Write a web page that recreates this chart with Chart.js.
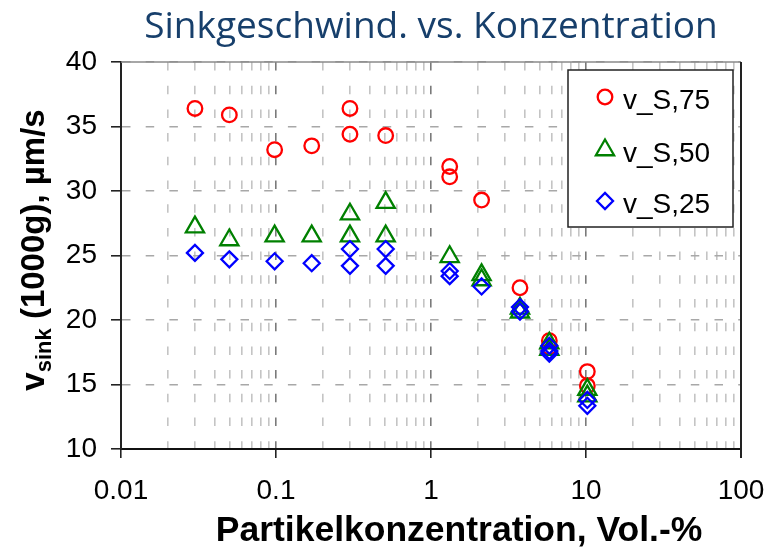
<!DOCTYPE html>
<html>
<head>
<meta charset="utf-8">
<script src="https://cdn.jsdelivr.net/npm/chart.js@4.4.1/dist/chart.umd.min.js"></script>
<style>
  html, body { margin: 0; padding: 0; background: #ffffff; }
  #wrap { width: 769px; height: 549px; }
</style>
</head>
<body>
<div id="wrap"><canvas id="chart" width="769" height="549"></canvas></div>
<script>
// Sinking velocity at 1000 g versus particle concentration (Vol.-%)
const seriesLabels = ['v_S,75', 'v_S,50', 'v_S,25'];

const conc75 = [0.03, 0.05, 0.098, 0.17, 0.3, 0.3, 0.51, 1.32, 1.32, 2.12, 3.75, 5.8, 5.8, 10.2, 10.2];
const vS75   = [36.4, 35.9, 33.2, 33.5, 36.4, 34.4, 34.3, 31.9, 31.1, 29.3, 22.5, 18.4, 17.9, 16.0, 14.9];

const conc50 = [0.03, 0.05, 0.098, 0.17, 0.3, 0.3, 0.51, 0.51, 1.32, 2.12, 2.12, 3.75, 3.75, 5.8, 5.8, 10.2, 10.2];
const vS50   = [27.2, 26.2, 26.5, 26.5, 28.2, 26.5, 29.1, 26.5, 24.9, 23.5, 23.1, 20.9, 20.6, 18.2, 17.7, 14.6, 14.1];

const conc25 = [0.03, 0.05, 0.098, 0.17, 0.3, 0.3, 0.51, 0.51, 1.32, 1.32, 2.12, 3.75, 3.75, 5.8, 5.8, 5.8, 10.2, 10.2];
const vS25   = [25.2, 24.7, 24.55, 24.4, 25.5, 24.2, 25.5, 24.2, 23.8, 23.4, 22.6, 21.0, 20.65, 18.0, 17.6, 17.4, 13.8, 13.35];

const xDecades    = [0.01, 0.1, 1, 10, 100];
const xTickLabels = ['0.01', '0.1', '1', '10', '100'];
const yTicks      = [10, 15, 20, 25, 30, 35, 40];

const chartTitle = 'Sinkgeschwind. vs. Konzentration';
const xAxisTitle = 'Partikelkonzentration, Vol.-%';
const yAxisTitleParts = ['v', 'sink', ' (1000g), µm/s'];

const colors = ['#ff0000', '#008000', '#0000ff'];
const markers = ['circle', 'triangle', 'rectRot'];
const markerRadius = [7.3, 10.5, 8];

// every 1..9 multiple of each decade gets a (dashed) vertical grid line
const xGridValues = [];
for (let d = 0; d < xDecades.length - 1; d++) {
  for (let k = 1; k <= 9; k++) xGridValues.push(+(xDecades[d] * k).toPrecision(6));
}
xGridValues.push(xDecades[xDecades.length - 1]);

const isDecade = v => Math.abs(Math.log10(v) - Math.round(Math.log10(v))) < 1e-9;

const toPoints = (xs, ys) => xs.map((x, i) => ({ x, y: ys[i] }));
const allSeries = [[conc75, vS75], [conc50, vS50], [conc25, vS25]];

const datasets = allSeries.map(([xs, ys], i) => ({
  label: seriesLabels[i],
  data: toPoints(xs, ys),
  showLine: false,
  pointStyle: markers[i],
  pointRadius: markerRadius[i],
  pointHoverRadius: markerRadius[i],
  pointBorderWidth: 2.3,
  pointHoverBorderWidth: 2.3,
  borderColor: colors[i],
  backgroundColor: 'rgba(0,0,0,0)',
  order: 3 - i
}));

const tickFont = { family: '"Liberation Sans", Arial, sans-serif', size: 28 };

// titles, frame and boxed legend
const decorations = {
  id: 'decorations',
  afterDatasetsDraw(chart) {
    const { ctx, chartArea: a } = chart;
    ctx.save();

    // top and right frame lines
    ctx.lineWidth = 1.5;
    ctx.strokeStyle = '#8a8a8a';
    ctx.beginPath(); ctx.moveTo(a.left, a.top); ctx.lineTo(a.right, a.top); ctx.stroke();
    ctx.lineWidth = 2;
    ctx.strokeStyle = '#222222';
    ctx.beginPath(); ctx.moveTo(a.right, a.top); ctx.lineTo(a.right, a.bottom + 9); ctx.stroke();

    // chart title
    ctx.fillStyle = '#173f6b';
    ctx.font = '37px "Open Sans", "Noto Sans", sans-serif';
    ctx.textAlign = 'center';
    ctx.textBaseline = 'alphabetic';
    ctx.fillText(chartTitle, 431, 38);

    // x axis title
    ctx.fillStyle = '#000000';
    ctx.font = 'bold 35.5px "Liberation Sans", Arial, sans-serif';
    ctx.fillText(xAxisTitle, 459, 541);

    // y axis title with subscript, rotated
    const big = 'bold 33px "Liberation Sans", Arial, sans-serif';
    const small = 'bold 22px "Liberation Sans", Arial, sans-serif';
    ctx.font = big;
    const w0 = ctx.measureText(yAxisTitleParts[0]).width;
    const w2 = ctx.measureText(yAxisTitleParts[2]).width;
    ctx.font = small;
    const w1 = ctx.measureText(yAxisTitleParts[1]).width;
    const total = w0 + w1 + w2;
    ctx.translate(44, 250);
    ctx.rotate(-Math.PI / 2);
    ctx.textAlign = 'left';
    let x = -total / 2;
    ctx.font = big;
    ctx.fillText(yAxisTitleParts[0], x, 0);
    x += w0;
    ctx.font = small;
    ctx.fillText(yAxisTitleParts[1], x, 7);
    x += w1;
    ctx.font = big;
    ctx.fillText(yAxisTitleParts[2], x, 0);
    ctx.setTransform(1, 0, 0, 1, 0, 0);

    // legend box
    const box = { left: 568, top: 70, right: 733, bottom: 227 };
    ctx.fillStyle = '#ffffff';
    ctx.fillRect(box.left, box.top, box.right - box.left, box.bottom - box.top);
    ctx.lineWidth = 1.5;
    ctx.strokeStyle = '#222222';
    ctx.strokeRect(box.left, box.top, box.right - box.left, box.bottom - box.top);

    const rowY = [97, 150, 201];
    ctx.font = '28px "Liberation Sans", Arial, sans-serif';
    ctx.textAlign = 'left';
    ctx.textBaseline = 'alphabetic';
    chart.data.datasets.forEach((ds, i) => {
      const opts = {
        pointStyle: ds.pointStyle,
        radius: ds.pointRadius,
        rotation: 0,
        borderWidth: ds.pointBorderWidth
      };
      ctx.strokeStyle = ds.borderColor;
      ctx.fillStyle = 'rgba(0,0,0,0)';
      ctx.lineWidth = ds.pointBorderWidth;
      Chart.helpers.drawPoint(ctx, opts, 605, rowY[i]);
      ctx.fillStyle = '#000000';
      ctx.fillText(ds.label, 623, rowY[i] + 12);
    });

    ctx.restore();
  }
};

new Chart(document.getElementById('chart'), {
  type: 'scatter',
  data: { datasets },
  options: {
    responsive: false,
    devicePixelRatio: 1,
    animation: false,
    events: [],
    layout: { padding: { top: 62, right: 28, left: 0, bottom: 0 } },
    plugins: {
      legend: { display: false },
      title: { display: false },
      tooltip: { enabled: false }
    },
    scales: {
      x: {
        type: 'logarithmic',
        min: 0.01,
        max: 100,
        afterBuildTicks(scale) {
          scale.ticks = xGridValues.map(v => ({ value: v, major: isDecade(v) }));
        },
        afterFit(scale) {
          scale.height = 100;
          scale.paddingLeft = 0;
          scale.paddingRight = 0;
        },
        ticks: {
          autoSkip: false,
          maxRotation: 0,
          minRotation: 0,
          padding: 16,
          color: '#000000',
          font: tickFont,
          callback(value) {
            const i = xDecades.findIndex(d => Math.abs(d - value) < 1e-9 * d);
            return i >= 0 ? xTickLabels[i] : '';
          }
        },
        grid: {
          color: c => (c.tick && isDecade(c.tick.value)) ? '#7a7a7a' : '#c4c4c4',
          lineWidth: 1.6,
          tickLength: 9,
          tickWidth: 1.6,
          tickColor: c => (c.tick && isDecade(c.tick.value)) ? '#222222' : 'rgba(0,0,0,0)'
        },
        border: { display: true, color: '#111111', width: 2, dash: [8.5, 15.2] }
      },
      y: {
        min: 10,
        max: 40,
        afterBuildTicks(scale) {
          scale.ticks = yTicks.map(v => ({ value: v }));
        },
        afterFit(scale) {
          scale.width = 121;
          scale.paddingTop = 0;
          scale.paddingBottom = 0;
        },
        ticks: {
          padding: 14,
          color: '#000000',
          font: tickFont
        },
        grid: {
          color: '#a8a8a8',
          lineWidth: 1.6,
          tickLength: 10,
          tickWidth: 1.6,
          tickColor: '#222222'
        },
        border: { display: true, color: '#222222', width: 2, dash: [8.5, 15.2] }
      }
    }
  },
  plugins: [decorations]
});
</script>
</body>
</html>
